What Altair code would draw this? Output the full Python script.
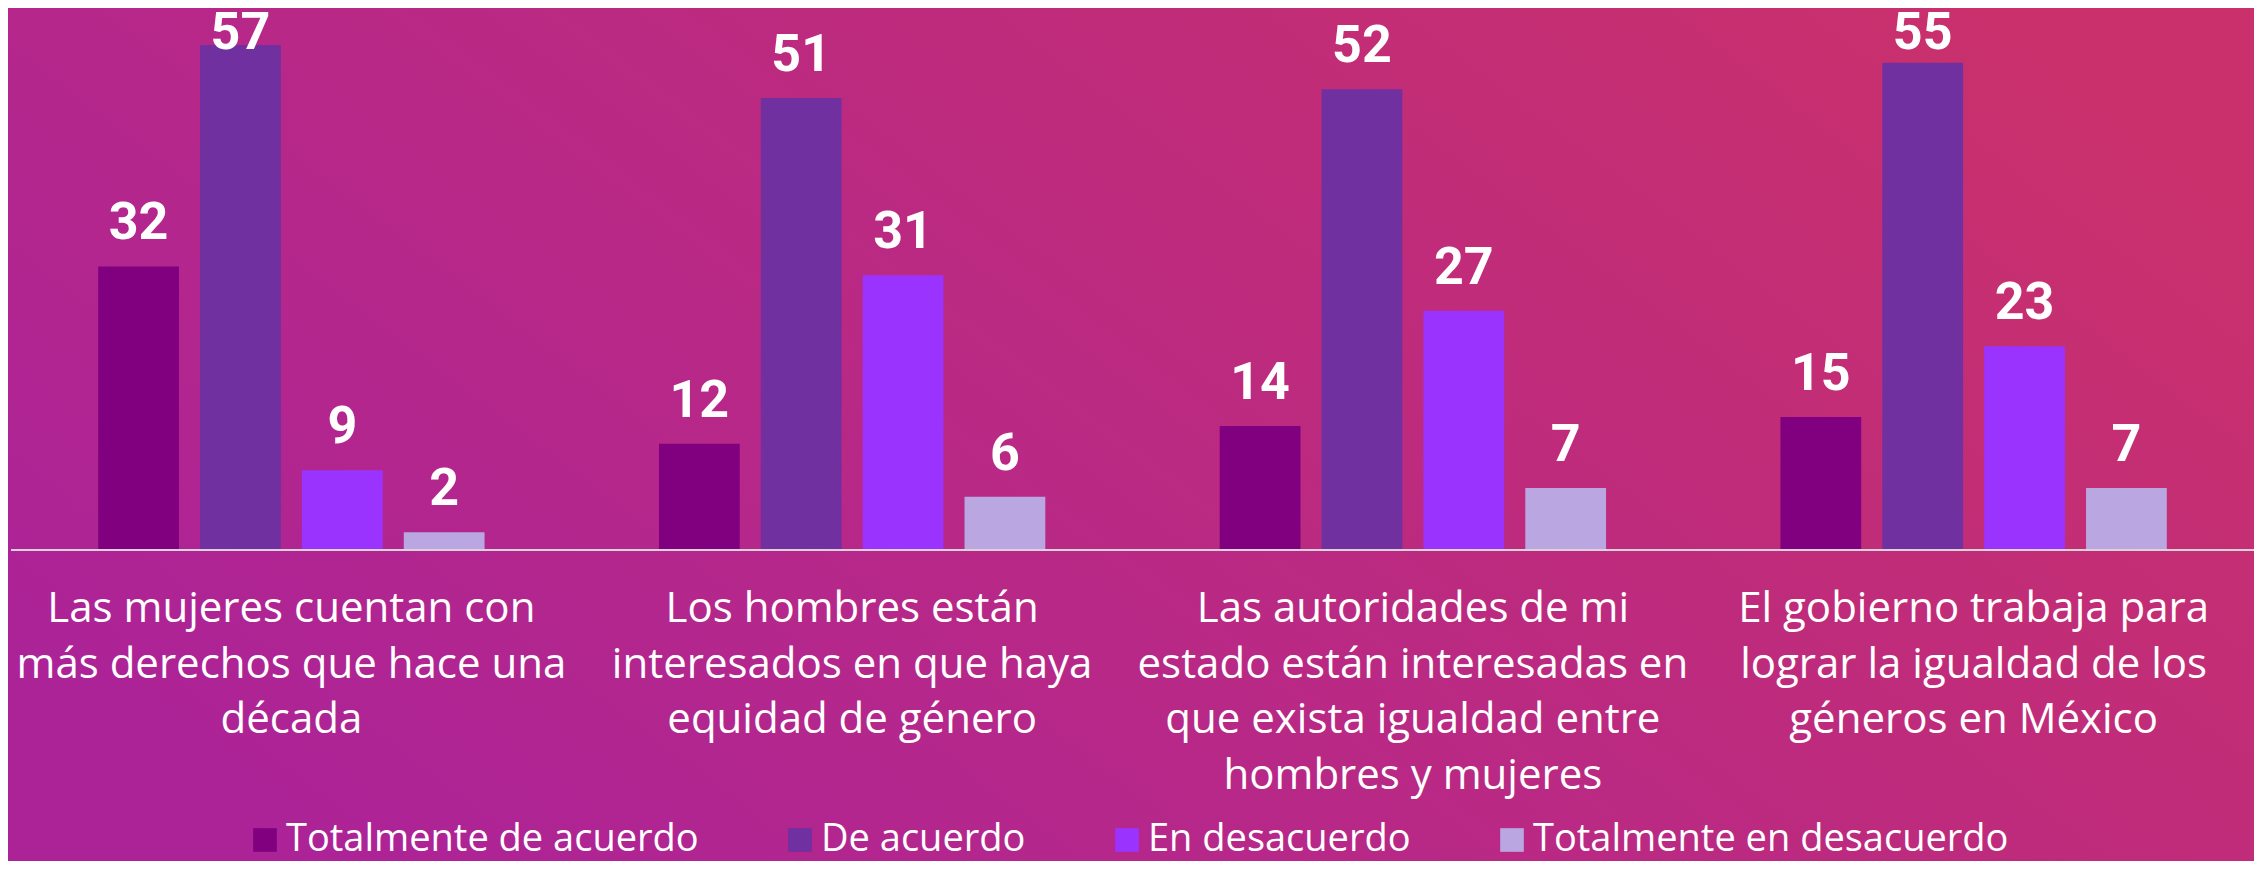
import altair as alt
import pandas as pd

categories = [
    "Las mujeres cuentan con\nmás derechos que hace una\ndécada",
    "Los hombres están\ninteresados en que haya\nequidad de género",
    "Las autoridades de mi\nestado están interesadas en\nque exista igualdad entre\nhombres y mujeres",
    "El gobierno trabaja para\nlograr la igualdad de los\ngéneros en México",
]
series = ["Totalmente de acuerdo", "De acuerdo", "En desacuerdo", "Totalmente en desacuerdo"]
totalmente_de_acuerdo = [32, 12, 14, 15]
de_acuerdo = [57, 51, 52, 55]
en_desacuerdo = [9, 31, 27, 23]
totalmente_en_desacuerdo = [2, 6, 7, 7]
colors = ["#800080", "#7030A0", "#9B33FF", "#BAA6E0"]

values_by_series = [totalmente_de_acuerdo, de_acuerdo, en_desacuerdo, totalmente_en_desacuerdo]
rows = []
for s, vals in zip(series, values_by_series):
    for c, v in zip(categories, vals):
        rows.append({"cat": c, "serie": s, "valor": v})
df = pd.DataFrame(rows)
cat_df = pd.DataFrame({"cat": categories})

W, H = 2246, 853
yscale = alt.Scale(domain=[-35.1, 61.17], nice=False, zero=False)
xscale = alt.Scale(domain=categories, range=[3, 2246], paddingInner=0, paddingOuter=0)
xoff = alt.XOffset("serie:N", sort=series, scale=alt.Scale(domain=series, paddingInner=0.207, paddingOuter=0.856))

bg = alt.Chart(pd.DataFrame({"a": [0]})).mark_rect(
    color=alt.Gradient(
        gradient="linear",
        x1=0, y1=0.75, x2=1, y2=0.25,
        stops=[alt.GradientStop(offset=0, color="#AC2398"),
               alt.GradientStop(offset=1, color="#C9306C")],
    )
).encode(x=alt.value(0), x2=alt.value(W), y=alt.value(0), y2=alt.value(H))

bars = alt.Chart(df).mark_bar().encode(
    x=alt.X("cat:N", sort=categories, scale=xscale, axis=None),
    xOffset=xoff,
    y=alt.Y("valor:Q", scale=yscale, axis=None),
    y2=alt.datum(0),
    color=alt.Color("serie:N", sort=series,
                    scale=alt.Scale(domain=series, range=colors),
                    legend=alt.Legend(title=None)),
)

labels = alt.Chart(df).transform_calculate(
    pos="min(datum.valor, 53.5)"
).mark_text(
    font="Roboto", fontWeight="bold", fontSize=52, color="white",
    align="center", baseline="alphabetic", dy=-27
).encode(
    x=alt.X("cat:N", sort=categories, scale=xscale, axis=None),
    xOffset=xoff,
    y=alt.Y("pos:Q", scale=yscale, axis=None),
    text=alt.Text("valor:Q"),
)

cats = alt.Chart(cat_df).mark_text(
    font="Open Sans", fontSize=42, color="white", align="center",
    baseline="alphabetic", lineBreak="\n", lineHeight=55.5
).encode(
    x=alt.X("cat:N", sort=categories, scale=xscale, axis=None),
    y=alt.value(614),
    text="cat:N",
)

rule = alt.Chart(pd.DataFrame({"a": [0]})).mark_rule(color="#DCD2DC", strokeWidth=2.2).encode(
    x=alt.value(3), x2=alt.value(2247), y=alt.Y("a:Q", scale=yscale, axis=None)
)

chart = alt.layer(bg, bars, rule, labels, cats).properties(
    width=W, height=H, padding=0, autosize="none", background="#B7288A"
).configure_view(strokeWidth=0).configure_legend(
    orient="none", legendX=238, legendY=813, direction="horizontal",
    columnPadding=82, labelOffset=2, symbolSize=560, symbolType="square",
    symbolStrokeWidth=0, labelFont="Open Sans", labelFontSize=38, labelColor="white",
    labelLimit=1000, padding=0,
)

chart.save("out.html", embed_options={"renderer": "svg", "actions": False})
